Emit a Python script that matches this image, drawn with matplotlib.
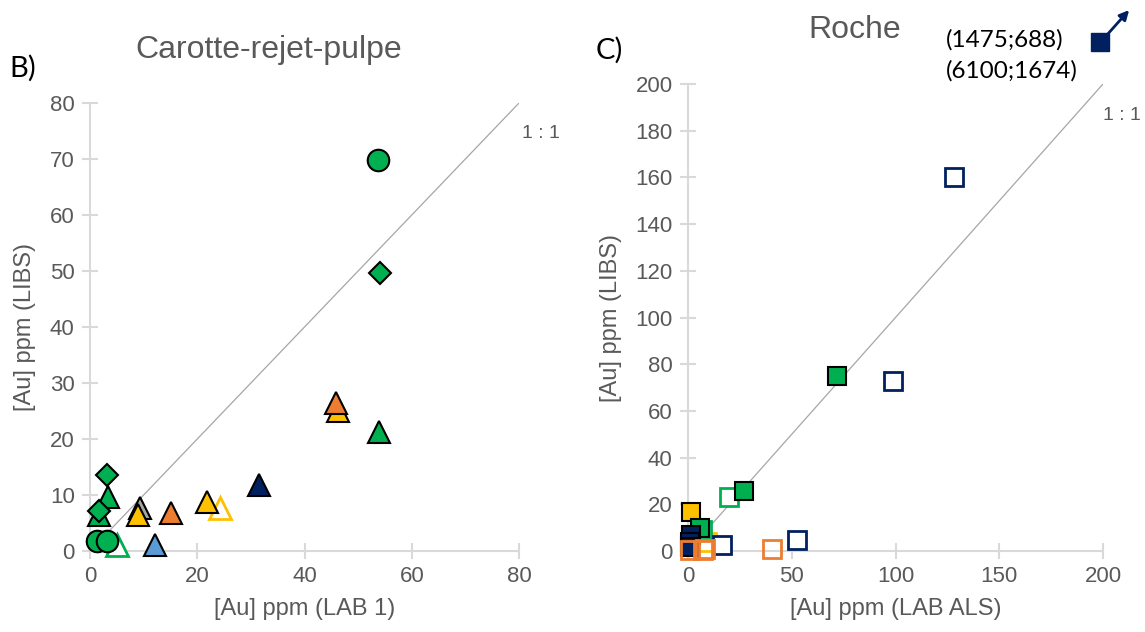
import matplotlib
matplotlib.use("Agg")
import matplotlib.pyplot as plt
from matplotlib.patches import FancyArrowPatch

# ---- Carotte-rejet-pulpe (LAB 1 vs LIBS) ----
green_open_tri_x = [5.0]
green_open_tri_y = [1.0]
yellow_open_tri_x = [24.3]
yellow_open_tri_y = [7.7]
gray_tri_x = [9.4]
gray_tri_y = [7.6]
yellow_tri_x = [46.3, 21.8, 9.0]
yellow_tri_y = [25.0, 8.8, 6.5]
orange_tri_x = [45.8, 15.1]
orange_tri_y = [26.5, 6.8]
navy_tri_x = [31.5]
navy_tri_y = [11.8]
blue_tri_x = [12.1]
blue_tri_y = [1.0]
green_tri_x = [53.9, 3.3, 1.6]
green_tri_y = [21.3, 9.7, 6.5]
green_diamond_x = [54.0, 3.1, 1.6]
green_diamond_y = [49.6, 13.6, 7.2]
green_circle_x = [53.7, 1.3, 3.1]
green_circle_y = [69.8, 1.8, 1.8]

# ---- Roche (LAB ALS vs LIBS) ----
yellow_open_sq_x = [9.0]
yellow_open_sq_y = [4.0]
navy_open_sq_x = [128.0, 99.0, 52.6, 16.4]
navy_open_sq_y = [160.0, 73.0, 4.7, 2.6]
green_open_sq_x = [19.8, 6.8]
green_open_sq_y = [23.0, 9.0]
green_sq_x = [71.8, 27.0, 5.8]
green_sq_y = [74.8, 25.6, 9.8]
yellow_sq_x = [1.4]
yellow_sq_y = [16.7]
navy_sq_x = [1.6, 1.2, 1.0]
navy_sq_y = [6.8, 3.8, 1.7]
orange_open_sq_x = [40.5, 1.0, 8.2, 7.2]
orange_open_sq_y = [0.9, 0.3, 0.8, 0.3]

left_ticks = [0, 20, 40, 60, 80]
left_yticks = [0, 10, 20, 30, 40, 50, 60, 70, 80]
right_xticks = [0, 50, 100, 150, 200]
right_yticks = list(range(0, 201, 20))

GREEN = "#00B050"
ORANGE = "#ED7D31"
YELLOW = "#FFC000"
NAVY = "#002060"
BLUE = "#5B9BD5"
GRAY = "#A5A5A5"
TXT = "#595959"
AX = "#D9D9D9"

narrow = ["Liberation Sans Narrow", "Liberation Sans", "DejaVu Sans"]
body = ["Lato", "DejaVu Sans"]

fig = plt.figure(figsize=(11.45, 6.32), dpi=100)
axL = fig.add_axes([90 / 1145, 81 / 632, 429 / 1145, 448 / 632])
axR = fig.add_axes([688 / 1145, 81 / 632, 415 / 1145, 467 / 632])


def style(ax, xt, yt, lim_x, lim_y):
    ax.set_xlim(*lim_x)
    ax.set_ylim(*lim_y)
    ax.set_xticks(xt)
    ax.set_yticks(yt)
    for s in ("top", "right"):
        ax.spines[s].set_visible(False)
    for s in ("left", "bottom"):
        ax.spines[s].set_color(AX)
        ax.spines[s].set_linewidth(1.5)
    ax.tick_params(direction="inout", length=12, width=1.5, color=AX,
                   labelcolor=TXT, labelsize=16, pad=5)
    for lab in ax.get_xticklabels() + ax.get_yticklabels():
        lab.set_family(narrow)
    ax.set_facecolor("none")


def pts(ax, x, y, marker, size, face, edge, lw, z):
    ax.plot(x, y, linestyle="none", marker=marker, markersize=size,
            markerfacecolor=face, markeredgecolor=edge, markeredgewidth=lw,
            clip_on=False, zorder=z)


# Left panel
style(axL, left_ticks, left_yticks, (0, 80), (0, 80))
axL.plot([0, 80], [0, 80], color="#A6A6A6", lw=0.9, zorder=1)
pts(axL, green_open_tri_x, green_open_tri_y, "^", 16, "white", GREEN, 2, 3)
pts(axL, yellow_open_tri_x, yellow_open_tri_y, "^", 16, "white", YELLOW, 2, 3)
pts(axL, gray_tri_x, gray_tri_y, "^", 16, GRAY, "black", 1.5, 4)
pts(axL, yellow_tri_x, yellow_tri_y, "^", 16, YELLOW, "black", 1.5, 5)
pts(axL, orange_tri_x, orange_tri_y, "^", 16, ORANGE, "black", 1.5, 6)
pts(axL, navy_tri_x, navy_tri_y, "^", 16, NAVY, "black", 1.5, 6)
pts(axL, blue_tri_x, blue_tri_y, "^", 16, BLUE, "black", 1.5, 6)
pts(axL, green_tri_x, green_tri_y, "^", 16, GREEN, "black", 1.5, 7)
pts(axL, green_diamond_x, green_diamond_y, "D", 11.5, GREEN, "black", 1.5, 8)
pts(axL, green_circle_x, green_circle_y, "o", 15.5, GREEN, "black", 1.5, 9)
fig.text(541 / 1145, 1 - 133 / 632, "1 : 1", color=TXT, fontsize=14,
         family=narrow, ha="center", va="center")
axL.set_xlabel("[Au] ppm (LAB 1)", color=TXT, fontsize=17, family=narrow,
               labelpad=8)
axL.set_ylabel("[Au] ppm (LIBS)", color=TXT, fontsize=17, family=narrow,
               labelpad=10)

# Right panel
style(axR, right_xticks, right_yticks, (0, 200), (0, 200))
axR.plot([0, 200], [0, 200], color="#A6A6A6", lw=0.9, zorder=1)
pts(axR, yellow_open_sq_x, yellow_open_sq_y, "s", 13.5, "white", YELLOW, 2, 3)
pts(axR, green_open_sq_x, green_open_sq_y, "s", 13.5, "white", GREEN, 2, 3)
pts(axR, yellow_sq_x, yellow_sq_y, "s", 13.5, YELLOW, "black", 1.5, 4)
pts(axR, green_sq_x, green_sq_y, "s", 13.5, GREEN, "black", 1.5, 5)
pts(axR, navy_sq_x, navy_sq_y, "s", 13.5, NAVY, "black", 1.5, 6)
pts(axR, navy_open_sq_x, navy_open_sq_y, "s", 13.5, "white", NAVY, 2, 7)
pts(axR, orange_open_sq_x, orange_open_sq_y, "s", 13.5, "none", ORANGE, 2, 8)
fig.text(1122 / 1145, 1 - 115 / 632, "1 : 1", color=TXT, fontsize=14,
         family=narrow, ha="center", va="center")
axR.set_xlabel("[Au] ppm (LAB ALS)", color=TXT, fontsize=17, family=narrow,
               labelpad=8)
axR.set_ylabel("[Au] ppm (LIBS)", color=TXT, fontsize=17, family=narrow,
               labelpad=10)

# Titles, panel letters and off-scale note
fig.text(269 / 1145, 1 - 50 / 632, "Carotte-rejet-pulpe", color=TXT,
         fontsize=23, family=narrow, ha="center", va="center")
fig.text(855 / 1145, 1 - 30 / 632, "Roche", color=TXT, fontsize=23,
         family=narrow, ha="center", va="center")
fig.text(9 / 1145, 1 - 68 / 632, "B)", color="black", fontsize=21,
         family=body, ha="left", va="center")
fig.text(596 / 1145, 1 - 50 / 632, "C)", color="black", fontsize=21,
         family=body, ha="left", va="center")
fig.text(946 / 1145, 1 - 40 / 632, "(1475;688)", color="black", fontsize=17.5,
         family=body, ha="left", va="center")
fig.text(946 / 1145, 1 - 71 / 632, "(6100;1674)", color="black", fontsize=17.5,
         family=body, ha="left", va="center")
fig.lines.append(plt.Line2D([1100 / 1145], [1 - 42 / 632], marker="s",
                            markersize=13, color=NAVY, linestyle="none",
                            transform=fig.transFigure))
fig.patches.append(FancyArrowPatch((1106 / 1145, 1 - 36 / 632),
                                   (1131 / 1145, 1 - 8 / 632),
                                   transform=fig.transFigure,
                                   arrowstyle="-|>", mutation_scale=14,
                                   color=NAVY, lw=2))

fig.savefig("out.png", dpi=100, facecolor="white")
